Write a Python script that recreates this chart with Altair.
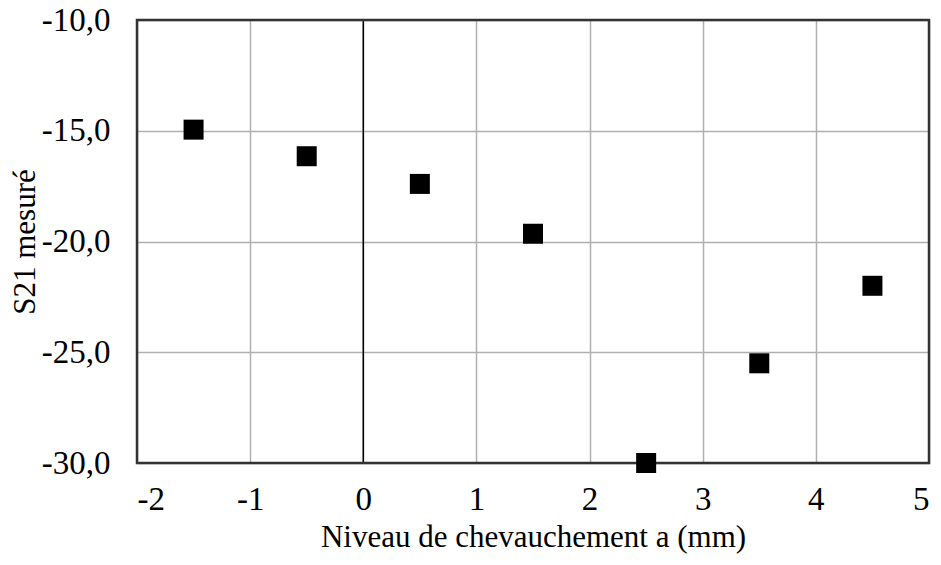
import altair as alt
import pandas as pd

x_vals = [-1.5, -0.5, 0.5, 1.5, 2.5, 3.5, 4.5]
s21_vals = [-14.95, -16.15, -17.4, -19.65, -30.0, -25.5, -22.0]
x_ticks = [-2, -1, 0, 1, 2, 3, 4, 5]
y_ticks = [-30, -25, -20, -15, -10]

df = pd.DataFrame({"a": x_vals, "s21": s21_vals})
zero_df = pd.DataFrame({"z": [0]})

FONT = "Liberation Serif"
W, H = 792, 443

xscale = alt.Scale(domain=[-2, 5], nice=False, zero=False)
yscale = alt.Scale(domain=[-30, -10], nice=False, zero=False)

points = alt.Chart(df).mark_point(
    shape="square", filled=True, size=400, color="black", opacity=1, clip=False
).encode(
    x=alt.X("a:Q", scale=xscale, axis=alt.Axis(
        values=x_ticks, title="Niveau de chevauchement a (mm)",
        labelExpr="(datum.value < 0 ? '-' : '') + format(abs(datum.value), 'd')",
        grid=True, gridColor="#b0b0b0", gridWidth=1.5, ticks=False, domain=False,
        labelFont=FONT, labelFontSize=33, labelColor="black", labelPadding=20,
        titleFont=FONT, titleFontSize=31, titleFontWeight="normal", titleColor="black",
        titlePadding=6)),
    y=alt.Y("s21:Q", scale=yscale, axis=alt.Axis(
        values=y_ticks, title="S21 mesuré",
        labelExpr="(datum.value < 0 ? '-' : '') + replace(format(abs(datum.value), '.1f'), '.', ',')",
        grid=True, gridColor="#b0b0b0", gridWidth=1.5, ticks=False, domain=False,
        labelFont=FONT, labelFontSize=33, labelColor="black", labelPadding=27,
        titleFont=FONT, titleFontSize=31, titleFontWeight="normal", titleColor="black",
        titlePadding=0)),
)

zero_line = alt.Chart(zero_df).mark_rule(color="black", strokeWidth=1.5).encode(
    x=alt.X("z:Q", scale=xscale)
)

frame = alt.Chart(zero_df).mark_rect(
    fill=None, fillOpacity=0, stroke="#333333", strokeWidth=2.5
).encode(
    x=alt.value(0), x2=alt.value(W), y=alt.value(0), y2=alt.value(H)
)

chart = alt.layer(zero_line, frame, points).properties(
    width=W, height=H,
    padding={"left": 129, "top": 12, "right": 4, "bottom": 94},
    autosize=alt.AutoSizeParams(type="none"),
).configure_view(
    stroke=None
).configure(background="white")

chart.save("out.html", embed_options={"renderer": "svg", "actions": False})
